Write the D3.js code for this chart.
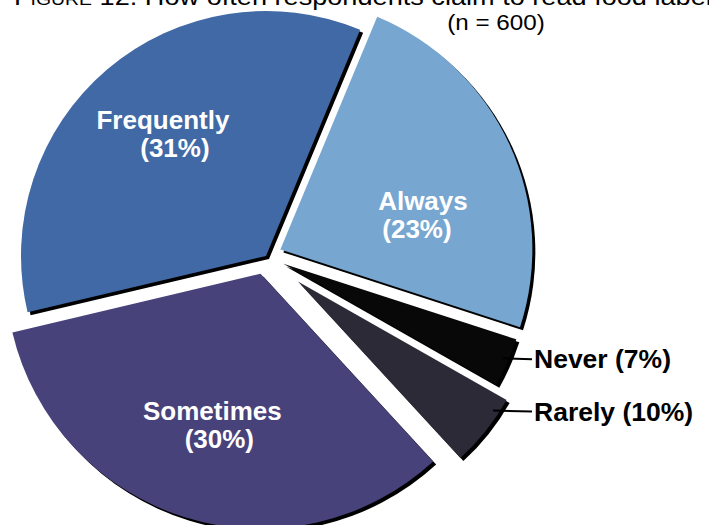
<!DOCTYPE html>
<html>
<head>
<meta charset="utf-8">
<script src="https://cdn.jsdelivr.net/npm/d3@7"></script>
<style>
    body { margin: 0; background: #fff; }
    svg { display: block; font-family: "Liberation Sans", Arial, sans-serif; }
</style>
</head>
<body>
<div id="pie"></div>
<script>
// data, clockwise from the top right
const categories = ["Always", "Never", "Rarely", "Sometimes", "Frequently"];
const percents = [23, 7, 10, 30, 31];
const sliceShare = [85.4, 11.6, 17.8, 119.3, 125.9];
const sliceColors = ["#77a6d1", "#080808", "#2c2a37", "#48427b", "#4169a5"];

const width = 709;
const height = 525;
const center = { x: 266, y: 256 };
const startDeg = 22.6;

// layout per slice: explode distance, radius, label placement
const explode = [15.8, 18.9, 40.8, 18.6, 0];
const radius = [252, 245, 240, 255, 245];
const labelInside = [true, false, false, true, true];
const labelR = [146.7, 0, 0, 159, 159.7];
const labelAngleNudge = [11.1, 0, 0, 0.6, 0.15];
const line2Shift = [-6, 0, 0, 7, 12];
// where the leader line leaves the small slices (fraction of the arc)
const leaderAt = [0, 0.46, 0.22, 0, 0];
const outLabelX = 534;

const rad = deg => deg * Math.PI / 180;
const polar = (r, a) => [r * Math.sin(a), -r * Math.cos(a)];
const midAngle = d => (d.startAngle + d.endAngle) / 2;

const pie = d3.pie()
    .sort(null)
    .value(d => d)
    .startAngle(rad(startDeg))
    .endAngle(rad(startDeg + 360));

const slices = pie(sliceShare);

const sliceOrigin = d => {
    const [dx, dy] = polar(explode[d.index], midAngle(d));
    return [center.x + dx, center.y + dy];
};

const svg = d3.select("#pie")
    .append("svg")
    .attr("width", width)
    .attr("height", height)
    .attr("viewBox", `0 0 ${width} ${height}`);

const sliceG = svg.selectAll(".slice")
    .data(slices)
    .join("g")
    .attr("class", "slice")
    .attr("transform", d => `translate(${sliceOrigin(d).join(", ")})`);

const arcFor = d => d3.arc().innerRadius(0).outerRadius(radius[d.index])(d);

// drop shadow
sliceG.append("path")
    .attr("d", arcFor)
    .attr("fill", "#000")
    .attr("transform", "translate(3, 3)");

sliceG.append("path")
    .attr("d", arcFor)
    .attr("fill", d => sliceColors[d.index]);

// labels inside the big slices
sliceG.filter(d => labelInside[d.index])
    .append("text")
    .attr("fill", "#fff")
    .attr("font-weight", "bold")
    .attr("font-size", 26)
    .attr("text-anchor", "middle")
    .attr("transform", d => {
        const i = d.index;
        const [x, y] = polar(labelR[i], midAngle(d) + rad(labelAngleNudge[i]));
        return `translate(${x}, ${y})`;
    })
    .each(function (d) {
        const i = d.index;
        const t = d3.select(this);
        t.append("tspan").attr("x", 0).attr("y", -5).text(categories[i]);
        t.append("tspan").attr("x", line2Shift[i]).attr("y", 23).text(`(${percents[i]}%)`);
    });

// outside labels with leader lines
const outside = slices.filter(d => !labelInside[d.index]);

const leaderStart = d => {
    const i = d.index;
    const a = d.startAngle + (d.endAngle - d.startAngle) * leaderAt[i];
    const [ox, oy] = sliceOrigin(d);
    const [x, y] = polar(radius[i] - 6, a);
    return [ox + x, oy + y];
};

svg.selectAll(".leader")
    .data(outside)
    .join("line")
    .attr("class", "leader")
    .attr("x1", d => leaderStart(d)[0])
    .attr("y1", d => leaderStart(d)[1])
    .attr("x2", outLabelX - 2)
    .attr("y2", d => leaderStart(d)[1] + 1)
    .attr("stroke", "#000")
    .attr("stroke-width", 2);

svg.selectAll(".out-label")
    .data(outside)
    .join("text")
    .attr("class", "out-label")
    .attr("x", outLabelX)
    .attr("y", d => leaderStart(d)[1] + 10)
    .attr("font-weight", "bold")
    .attr("font-size", 26.5)
    .text(d => `${categories[d.index]} (${percents[d.index]}%)`);

// title, cut off at the top of the picture
svg.append("text")
    .attr("transform", "translate(14, 5) scale(1.18, 1)")
    .attr("font-size", 23)
    .attr("fill", "#000")
    .html('<tspan style="font-variant: small-caps">Figure</tspan> 12:  How often respondents claim to read food labels');

svg.append("text")
    .attr("transform", "translate(496, 30) scale(1.1, 1)")
    .attr("font-size", 22)
    .attr("text-anchor", "middle")
    .text("(n = 600)");
</script>
</body>
</html>
